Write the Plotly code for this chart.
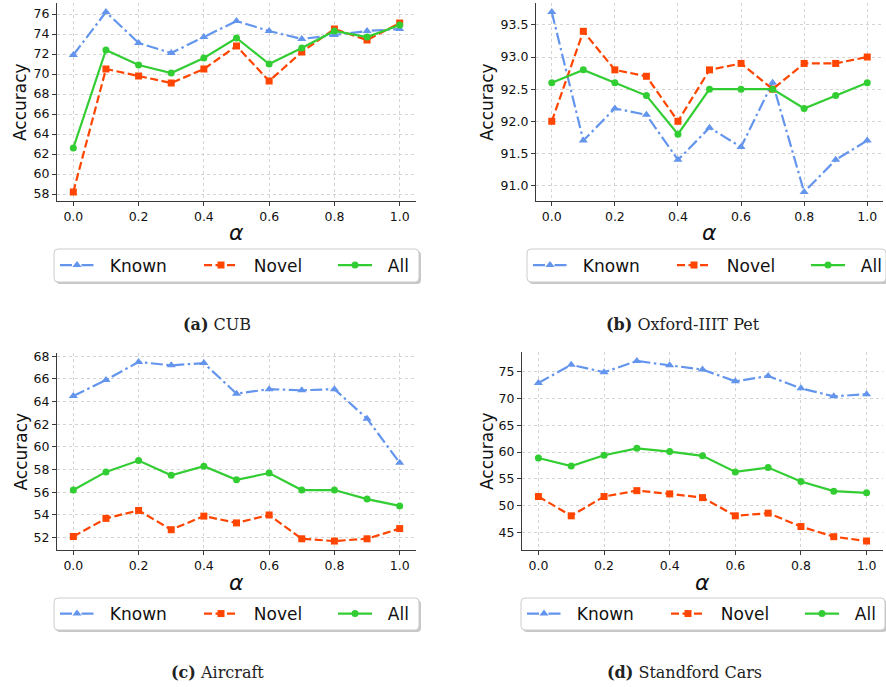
import plotly.graph_objects as go

W, H = 886, 687

alpha = [0.0, 0.1, 0.2, 0.3, 0.4, 0.5, 0.6, 0.7, 0.8, 0.9, 1.0]
series_names = ["Known", "Novel", "All"]

cub_known = [71.9, 76.2, 73.1, 72.1, 73.7, 75.3, 74.3, 73.5, 73.9, 74.3, 74.5]
cub_novel = [58.2, 70.5, 69.8, 69.1, 70.5, 72.8, 69.3, 72.2, 74.5, 73.4, 75.1]
cub_all = [62.6, 72.4, 70.9, 70.1, 71.6, 73.6, 71.0, 72.6, 74.3, 73.7, 74.9]

pet_known = [93.7, 91.7, 92.2, 92.1, 91.4, 91.9, 91.6, 92.6, 90.9, 91.4, 91.7]
pet_novel = [92.0, 93.4, 92.8, 92.7, 92.0, 92.8, 92.9, 92.5, 92.9, 92.9, 93.0]
pet_all = [92.6, 92.8, 92.6, 92.4, 91.8, 92.5, 92.5, 92.5, 92.2, 92.4, 92.6]

air_known = [64.5, 65.9, 67.5, 67.2, 67.4, 64.7, 65.1, 65.0, 65.1, 62.5, 58.6]
air_novel = [52.1, 53.7, 54.4, 52.7, 53.9, 53.3, 54.0, 51.9, 51.7, 51.9, 52.8]
air_all = [56.2, 57.8, 58.8, 57.5, 58.3, 57.1, 57.7, 56.2, 56.2, 55.4, 54.8]

car_known = [72.9, 76.3, 74.9, 77.0, 76.2, 75.4, 73.2, 74.2, 71.9, 70.4, 70.8]
car_novel = [51.7, 48.1, 51.7, 52.8, 52.2, 51.5, 48.1, 48.6, 46.1, 44.2, 43.4]
car_all = [58.9, 57.4, 59.4, 60.7, 60.1, 59.3, 56.3, 57.1, 54.5, 52.7, 52.4]

captions = ["(a)", "(b)", "(c)", "(d)"]
caption_names = ["CUB", "Oxford-IIIT Pet", "Aircraft", "Standford Cars"]
ytick_steps = [2, 0.5, 2, 5]

panels = [
    (cub_known, cub_novel, cub_all),
    (pet_known, pet_novel, pet_all),
    (air_known, air_novel, air_all),
    (car_known, car_novel, car_all),
]

# pixel boxes of each plot area: left, right, top, bottom
boxes = [(57, 416, 3, 201), (536, 883, 3, 201), (57, 416, 353, 550), (522, 883, 352, 550)]
# legend frames: left, right, top, bottom
legend_boxes = [(54, 419, 249, 282), (527, 886, 249, 282), (54, 419, 598, 630), (521, 885, 598, 630)]
item_offsets = [7, 151, 285]
caption_pos = [(217, 324), (683, 324), (217, 672), (684, 672)]
alpha_y = [233, 233, 582, 582]
acc_x = [20, 487, 20, 487]

colors = ["#6495ED", "#FF4500", "#32CD32"]
dashes = ["12px,3.5px,2.5px,3.5px", "8px,3.5px", "solid"]
symbols = ["triangle-up", "square", "circle"]
msizes = [8, 7, 7]

AX = "#3a3a3a"
FONT = "DejaVu Sans"
NB = "\u00a0\u00a0"

fig = go.Figure()
layout = {}
annotations = []
shapes = []

def px_x(x):
    return x / W

def px_y(y):
    return 1 - y / H

def rounded(x0, x1, y0, y1, r):
    rx, ry = r / W, r / H
    X0, X1, Y0, Y1 = px_x(x0), px_x(x1), px_y(y1), px_y(y0)
    return (f"M{X0 + rx},{Y0} L{X1 - rx},{Y0} Q{X1},{Y0} {X1},{Y0 + ry} "
            f"L{X1},{Y1 - ry} Q{X1},{Y1} {X1 - rx},{Y1} L{X0 + rx},{Y1} "
            f"Q{X0},{Y1} {X0},{Y1 - ry} L{X0},{Y0 + ry} Q{X0},{Y0} {X0 + rx},{Y0} Z")

for i, (vals, box) in enumerate(zip(panels, boxes)):
    k = "" if i == 0 else str(i + 1)
    bl, br, bt, bb = legend_boxes[i]
    for j, v in enumerate(vals):
        n = i * 3 + j
        leg = "legend" if n == 0 else "legend" + str(n + 1)
        fig.add_trace(go.Scatter(
            x=alpha, y=v, name=NB + series_names[j], mode="lines+markers",
            xaxis="x" + k, yaxis="y" + k, legend=leg,
            line=dict(color=colors[j], width=2.2, dash=dashes[j]),
            marker=dict(symbol=symbols[j], size=msizes[j], color=colors[j]),
        ))
        layout[leg] = dict(x=px_x(bl + item_offsets[j] - 6), y=px_y((bt + bb) / 2),
                           xanchor="left", yanchor="middle",
                           bgcolor="rgba(0,0,0,0)", borderwidth=0,
                           font=dict(family=FONT, size=17, color="#111"),
                           itemwidth=34)
    # legend frame with shadow
    shapes.append(dict(type="path", xref="paper", yref="paper",
                       path=rounded(bl + 2, br + 2, bt + 2, bb + 2, 4),
                       fillcolor="rgba(0,0,0,0.22)", line=dict(width=0), layer="above"))
    shapes.append(dict(type="path", xref="paper", yref="paper",
                       path=rounded(bl, br, bt, bb, 4),
                       fillcolor="white", line=dict(color="#cccccc", width=1), layer="above"))

    allv = [a for s in vals for a in s]
    lo, hi = min(allv), max(allv)
    m = (hi - lo) * 0.05
    l, r, t, b = box
    common = dict(showline=True, linecolor=AX, linewidth=1.2, ticks="outside",
                  ticklen=4, tickwidth=1.2, tickcolor=AX, showgrid=True,
                  gridcolor="#d4d4d4", griddash="dot", gridwidth=0.8,
                  zeroline=False, mirror=False, automargin=False,
                  tickfont=dict(family=FONT, size=12.5, color="#111"))
    layout["xaxis" + k] = dict(common, domain=[px_x(l), px_x(r)], anchor="y" + k,
                               range=[-0.05, 1.05], tick0=0, dtick=0.2, tickformat=".1f")
    ytf = ".1f" if ytick_steps[i] < 1 else "d"
    layout["yaxis" + k] = dict(common, domain=[px_y(b), px_y(t)], anchor="x" + k,
                               range=[lo - m, hi + m], tick0=0, dtick=ytick_steps[i],
                               tickformat=ytf)
    annotations.append(dict(text="Accuracy", textangle=-90, x=px_x(acc_x[i]),
                            y=px_y((t + b) / 2), xref="paper", yref="paper",
                            xanchor="center", yanchor="middle",
                            showarrow=False, font=dict(family=FONT, size=17, color="#111")))
    annotations.append(dict(text="<i>α</i>", x=px_x((l + r) / 2), y=px_y(alpha_y[i]),
                            xref="paper", yref="paper", showarrow=False,
                            xanchor="center", yanchor="middle",
                            font=dict(family=FONT, size=22, color="#111")))
    cx, cy = caption_pos[i]
    annotations.append(dict(text="<b>" + captions[i] + "</b> " + caption_names[i],
                            x=px_x(cx), y=px_y(cy), xref="paper", yref="paper",
                            xanchor="center", yanchor="middle",
                            showarrow=False,
                            font=dict(family="DejaVu Serif", size=16, color="#222")))

fig.update_layout(**layout)
fig.update_layout(width=W, height=H, margin=dict(l=0, r=0, t=0, b=0, autoexpand=False),
                  paper_bgcolor="white", plot_bgcolor="white",
                  annotations=annotations, shapes=shapes, showlegend=True)
fig.write_html("out.html", config={"displayModeBar": False},
               post_script="document.body.style.margin='0px';")
